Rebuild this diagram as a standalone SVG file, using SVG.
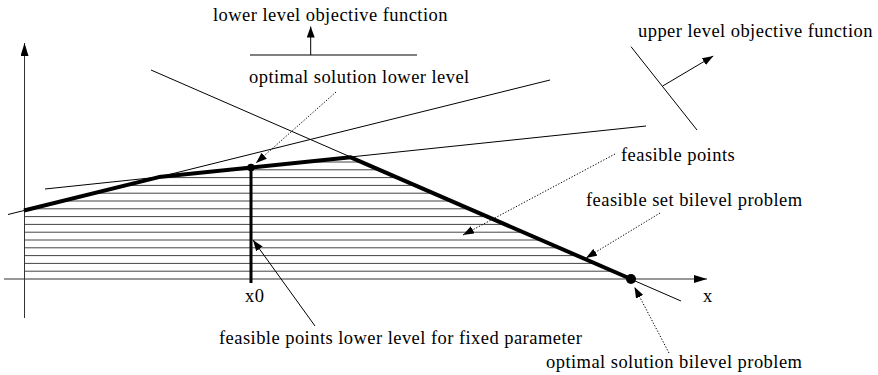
<svg xmlns="http://www.w3.org/2000/svg" width="878" height="375" viewBox="0 0 878 375">
<style>
.t{font-family:'Liberation Serif','Times New Roman',serif;font-size:18.5px;letter-spacing:0.45px;fill:#000}
.thin{stroke:#000;stroke-width:1;fill:none}
.axis{stroke:#333;stroke-width:1;fill:none}
.thick{stroke:#000;stroke-width:4;fill:none;stroke-linejoin:round}
.hatch{stroke:#444;stroke-width:1}
.dot{stroke:#000;stroke-width:1;stroke-dasharray:1.3 1.7;fill:none}
</style>
<defs>
<marker id="ah" markerUnits="userSpaceOnUse" markerWidth="11" markerHeight="8" refX="11" refY="4" orient="auto"><path d="M0,0 L11,4 L0,8 z" fill="#000"/></marker>
<marker id="ahx" markerUnits="userSpaceOnUse" markerWidth="13" markerHeight="8" refX="13" refY="4" orient="auto"><path d="M0,0 L13,4 L0,8 z" fill="#000"/></marker>
<clipPath id="fs"><polygon points="24,210.5 158.8,177.1 350.7,157.3 631,279 24,279"/></clipPath>
</defs>
<g id="feasible-set" clip-path="url(#fs)">
<line class="hatch" x1="0" x2="700" y1="271.2" y2="271.2"/>
<line class="hatch" x1="0" x2="700" y1="263.4" y2="263.4"/>
<line class="hatch" x1="0" x2="700" y1="255.6" y2="255.6"/>
<line class="hatch" x1="0" x2="700" y1="247.8" y2="247.8"/>
<line class="hatch" x1="0" x2="700" y1="240" y2="240"/>
<line class="hatch" x1="0" x2="700" y1="232.2" y2="232.2"/>
<line class="hatch" x1="0" x2="700" y1="224.4" y2="224.4"/>
<line class="hatch" x1="0" x2="700" y1="216.6" y2="216.6"/>
<line class="hatch" x1="0" x2="700" y1="208.8" y2="208.8"/>
<line class="hatch" x1="0" x2="700" y1="201" y2="201"/>
<line class="hatch" x1="0" x2="700" y1="193.2" y2="193.2"/>
<line class="hatch" x1="0" x2="700" y1="185.4" y2="185.4"/>
<line class="hatch" x1="0" x2="700" y1="177.6" y2="177.6"/>
<line class="hatch" x1="0" x2="700" y1="169.8" y2="169.8"/>
<line class="hatch" x1="0" x2="700" y1="162" y2="162"/>
</g>
<g id="axes">
<line class="axis" x1="4" y1="279" x2="707" y2="279" marker-end="url(#ahx)"/>
<line class="axis" x1="24.5" y1="318" x2="24.5" y2="43" marker-end="url(#ahx)"/>
<text class="t" x="703" y="301.5">x</text>
<text class="t" x="245" y="301.5">x0</text>
</g>
<g id="constraints">
<line class="thin" x1="8" y1="214.5" x2="550" y2="80"/>
<line class="thin" x1="45" y1="189" x2="646" y2="126"/>
<line class="thin" x1="151" y1="70" x2="681" y2="301"/>
</g>
<g id="bilevel-feasible-set">
<polyline class="thick" points="24,210.5 158.8,177.1 350.7,157.3 631,279"/>
<line x1="251" y1="167.4" x2="251" y2="283" stroke="#000" stroke-width="3"/>
<circle cx="251" cy="167.6" r="3.8" fill="#000"/>
<circle cx="631" cy="279" r="5" fill="#000"/>
</g>
<g id="lower-level-objective">
<line class="thin" x1="250" y1="55" x2="417" y2="55"/>
<line class="thin" x1="310.7" y1="55" x2="310.7" y2="26.5" marker-end="url(#ah)"/>
<text class="t" x="213" y="20.5">lower level objective function</text>
</g>
<g id="upper-level-objective">
<line class="thin" x1="631" y1="46.7" x2="697" y2="130"/>
<line class="thin" x1="662.7" y1="86" x2="713.3" y2="56" marker-end="url(#ah)"/>
<text class="t" x="638" y="36.5">upper level objective function</text>
</g>
<g id="labels">
<text class="t" x="249" y="83">optimal solution lower level</text>
<text class="t" x="621" y="161">feasible points</text>
<text class="t" x="586" y="206">feasible set bilevel problem</text>
<text class="t" x="219" y="344">feasible points lower level for fixed parameter</text>
<text class="t" x="546" y="367.5">optimal solution bilevel problem</text>
</g>
<g id="connectors">
<line class="dot" x1="336" y1="92" x2="256" y2="163" marker-end="url(#ah)"/>
<line class="dot" x1="615" y1="154" x2="463" y2="235" marker-end="url(#ah)"/>
<line class="dot" x1="660" y1="213" x2="586" y2="258" marker-end="url(#ah)"/>
<line class="dot" x1="669" y1="353" x2="634.5" y2="287" marker-end="url(#ah)"/>
<line class="thin" x1="315" y1="326" x2="253" y2="240" marker-end="url(#ah)"/>
</g>
</svg>
